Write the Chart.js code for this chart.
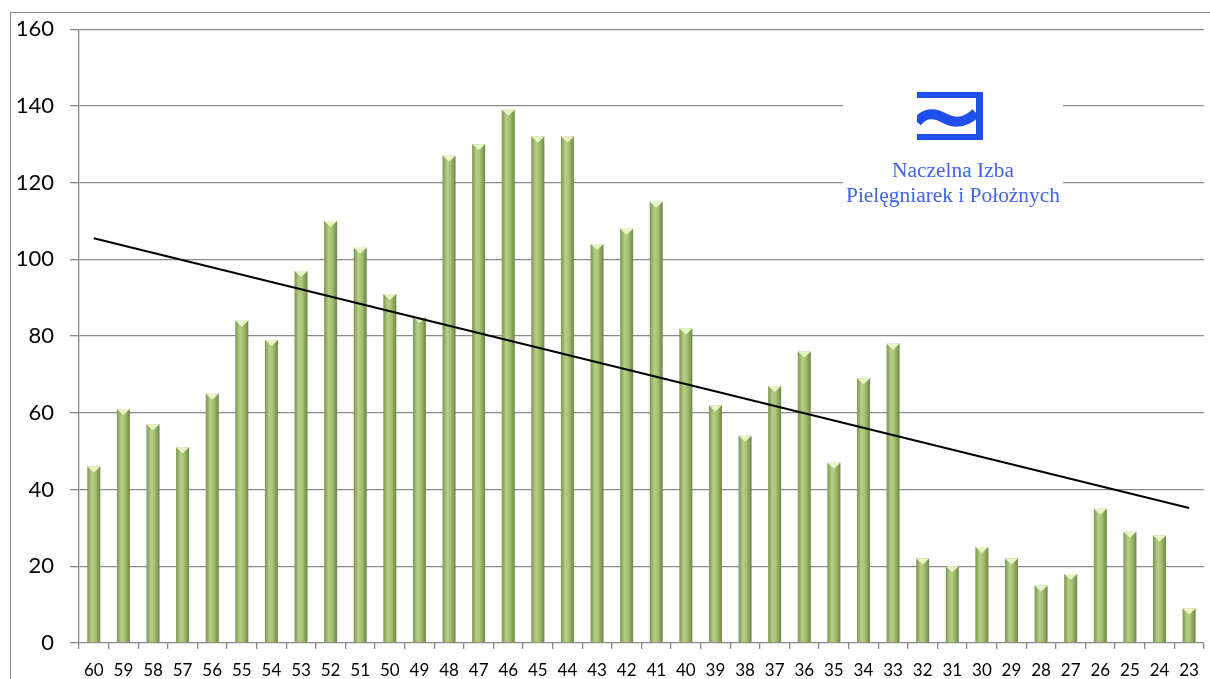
<!DOCTYPE html>
<html>
<head>
<meta charset="utf-8">
<script src="https://cdn.jsdelivr.net/npm/chart.js@4"></script>
<style>
  html, body { margin: 0; padding: 0; background: #fff; }
  #wrap { position: relative; width: 1210px; height: 679px; overflow: hidden; }
  #frame { position: absolute; left: 10px; top: 12px; width: 1300px; height: 800px;
           border-left: 1.5px solid #8a8a8a; border-top: 1.5px solid #8a8a8a; }
  #chart { position: absolute; left: 0; top: 0; }
  #logo { position: absolute; left: 843px; top: 86px; width: 220px; height: 120px; background: #fff;
          font-family: "Liberation Serif", "DejaVu Serif", serif; color: #4164ee; }
  #logo svg { position: absolute; left: 74px; top: 6px; }
  #logo .ln { position: absolute; left: 0; width: 220px; text-align: center; font-size: 20px;
              line-height: 24px; transform: scaleX(1.07); white-space: nowrap; }
  #logo .l1 { top: 72px; }
  #logo .l2 { top: 97px; }
</style>
</head>
<body>
<div id="wrap">
  <div id="frame"></div>
  <canvas id="chart" width="1210" height="679"></canvas>
  <div id="logo">
    <svg width="66" height="48" viewBox="0 0 66 48">
      <path d="M0 0 H66 V48 H0 V42 H59 V6 H0 Z" fill="#1f4fec"/>
      <path d="M0 30 C8 21, 16 20, 27 26 C38 32, 48 31, 59 21" stroke="#1f4fec" stroke-width="10" fill="none"/>
    </svg>
    <div class="ln l1">Naczelna Izba</div>
    <div class="ln l2">Pielęgniarek i Położnych</div>
  </div>
</div>
<script>
const ages = ["60","59","58","57","56","55","54","53","52","51","50","49","48","47","46","45","44","43","42","41",
              "40","39","38","37","36","35","34","33","32","31","30","29","28","27","26","25","24","23"];
const counts = [46, 61, 57, 51, 65, 84, 79, 97, 110, 103, 91, 85, 127, 130, 139, 132, 132, 104, 108, 115,
                82, 62, 54, 67, 76, 47, 69, 78, 22, 20, 25, 22, 15, 18, 35, 29, 28, 9];
const trendEnds = [105.5, 35.2];
const yTicks = [0, 20, 40, 60, 80, 100, 120, 140, 160];

const barPct = 0.44;
const trendLine = ages.map((_, i) => i === 0 ? trendEnds[0] : (i === ages.length - 1 ? trendEnds[1] : null));

function barFill(ctx) {
  const chart = ctx.chart;
  const xs = chart.scales.x;
  if (!xs || !chart.chartArea || ctx.type !== "data") return "#9bb86a";
  const cx = xs.getPixelForValue(ctx.dataIndex);
  const w = xs.width / ages.length * barPct;
  const g = chart.ctx.createLinearGradient(cx - w / 2, 0, cx + w / 2, 0);
  g.addColorStop(0, "#7b9652");
  g.addColorStop(0.35, "#b6cf86");
  g.addColorStop(0.6, "#a6c274");
  g.addColorStop(1, "#6c8744");
  return g;
}

// light chevron on top of every bar
const tipPlugin = {
  id: "tips",
  afterDatasetDraw(chart, args) {
    if (args.meta.type !== "bar") return;
    const c = chart.ctx;
    c.save();
    args.meta.data.forEach(el => {
      const w = el.width;
      c.beginPath();
      c.moveTo(el.x - w / 2, el.y);
      c.lineTo(el.x + w / 2, el.y);
      c.lineTo(el.x, el.y + 6);
      c.closePath();
      c.fillStyle = "#eaf3c6";
      c.fill();
    });
    c.restore();
  }
};

new Chart(document.getElementById("chart"), {
  data: {
    labels: ages,
    datasets: [
      { type: "line", label: "Trend", data: trendLine, spanGaps: true, borderColor: "#000", borderWidth: 2,
        pointRadius: 0, fill: false, order: 0 },
      { type: "bar", label: "Liczba", data: counts, backgroundColor: barFill, borderWidth: 0,
        barPercentage: barPct, categoryPercentage: 1, order: 1 }
    ]
  },
  options: {
    responsive: false,
    animation: false,
    events: [],
    layout: { padding: { top: 28, right: 3, bottom: 0, left: 0 } },
    plugins: { legend: { display: false }, tooltip: { enabled: false } },
    scales: {
      x: {
        offset: true,
        afterFit: s => { s.height = 36; },
        grid: { drawOnChartArea: false, offset: true, tickLength: 6, color: "#8a8a8a", lineWidth: 1.3 },
        border: { display: false },
        ticks: { color: "#000", padding: 11, maxRotation: 0, autoSkip: false,
                 font: { family: "Lato, 'Open Sans', sans-serif", size: 17 } }
      },
      y: {
        min: 0, max: 160,
        afterFit: s => { s.width = 79; },
        afterBuildTicks: s => { s.ticks = yTicks.map(v => ({ value: v })); },
        grid: { color: "#8a8a8a", lineWidth: 1.3, tickLength: 9 },
        border: { display: true, color: "#8a8a8a", width: 1.3 },
        ticks: { color: "#000", padding: 16,
                 font: { family: "Lato, 'Open Sans', sans-serif", size: 22 } }
      }
    }
  },
  plugins: [tipPlugin]
});
</script>
</body>
</html>
